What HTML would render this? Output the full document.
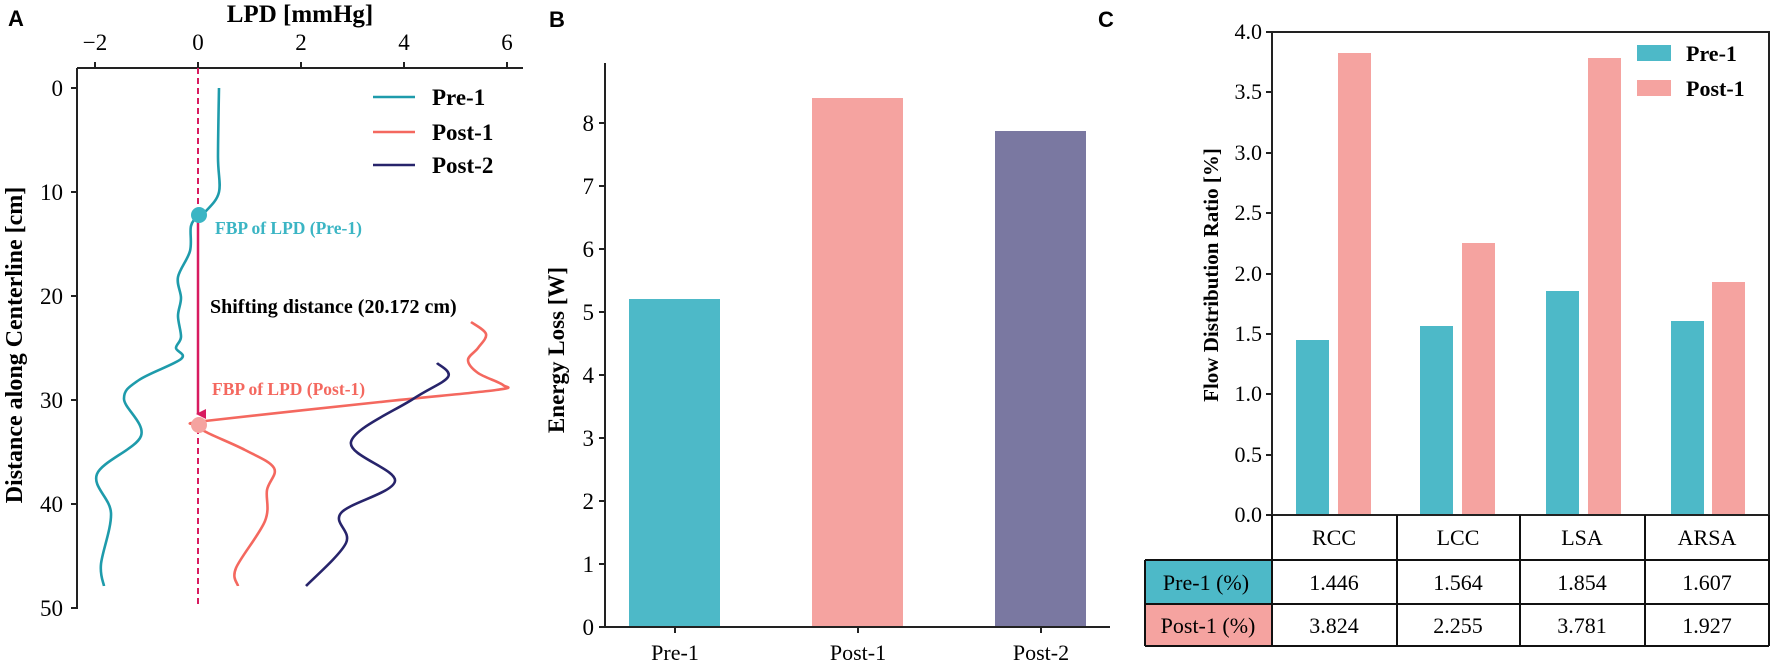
<!DOCTYPE html>
<html><head><meta charset="utf-8"><style>
html,body{margin:0;padding:0;background:#fff;}
svg{display:block;}
.t{font-family:"Liberation Serif",serif;}
.b{font-family:"Liberation Serif",serif;font-weight:bold;}
.s{font-family:"Liberation Sans",sans-serif;font-weight:bold;}
</style></head><body>
<svg id="sv" width="1772" height="666" viewBox="0 0 1772 666" xmlns="http://www.w3.org/2000/svg">
<defs><marker id="ah" markerWidth="10" markerHeight="10" refX="5" refY="8" orient="auto" markerUnits="userSpaceOnUse"><path d="M0,0 L5,10 L10,0 Z" fill="#d81b60"/></marker></defs>
<!-- Panel A -->
<text x="8" y="26" class="s" font-size="22">A</text>
<text x="300" y="22" class="b" font-size="25" text-anchor="middle">LPD [mmHg]</text>
<g stroke="#222" stroke-width="2" fill="none">
<line x1="77" y1="68" x2="523" y2="68"/><line x1="77" y1="68" x2="77" y2="609"/>
<line x1="95" y1="68" x2="95" y2="62"/><line x1="198" y1="68" x2="198" y2="62"/><line x1="301" y1="68" x2="301" y2="62"/><line x1="404" y1="68" x2="404" y2="62"/><line x1="507" y1="68" x2="507" y2="62"/>
<line x1="77" y1="88" x2="71" y2="88"/><line x1="77" y1="192" x2="71" y2="192"/><line x1="77" y1="296" x2="71" y2="296"/><line x1="77" y1="400" x2="71" y2="400"/><line x1="77" y1="504" x2="71" y2="504"/><line x1="77" y1="608" x2="71" y2="608"/>
</g>
<g class="t" font-size="23" text-anchor="middle">
<text x="95" y="50">−2</text><text x="198" y="50">0</text><text x="301" y="50">2</text><text x="404" y="50">4</text><text x="507" y="50">6</text>
</g>
<g class="t" font-size="23" text-anchor="end">
<text x="63" y="96">0</text><text x="63" y="200">10</text><text x="63" y="304">20</text><text x="63" y="408">30</text><text x="63" y="512">40</text><text x="63" y="616">50</text>
</g>
<text transform="translate(22,345) rotate(-90)" class="b" font-size="24" text-anchor="middle">Distance along Centerline [cm]</text>
<line x1="198" y1="68" x2="198" y2="608" stroke="#d81b60" stroke-width="2" stroke-dasharray="6,4"/>
<path id="p1" fill="none" stroke="#1e9bab" stroke-width="2.6"/>
<path id="p2" fill="none" stroke="#f4685f" stroke-width="2.6"/>
<path id="p3" fill="none" stroke="#27246b" stroke-width="2.6"/>
<line x1="198" y1="222" x2="198" y2="414" stroke="#d81b60" stroke-width="2.5" marker-end="url(#ah)"/>
<circle cx="199" cy="215" r="8" fill="#3bb5c4"/>
<circle cx="199" cy="425" r="8" fill="#f5a3a0"/>
<text x="215" y="234" class="b" font-size="17.5" fill="#3bb5c4">FBP of LPD (Pre-1)</text>
<text x="210" y="313" class="b" font-size="20">Shifting distance (20.172 cm)</text>
<text x="212" y="395" class="b" font-size="17.5" fill="#f4685f">FBP of LPD (Post-1)</text>
<line x1="373" y1="97" x2="415" y2="97" stroke="#1e9bab" stroke-width="2.6"/>
<line x1="373" y1="132" x2="415" y2="132" stroke="#f4685f" stroke-width="2.6"/>
<line x1="373" y1="165" x2="415" y2="165" stroke="#27246b" stroke-width="2.6"/>
<g class="b" font-size="23"><text x="432" y="105">Pre-1</text><text x="432" y="140">Post-1</text><text x="432" y="173">Post-2</text></g>

<!-- Panel B -->
<text x="549" y="27" class="s" font-size="22">B</text>
<rect x="629" y="299" width="91" height="328" fill="#4db9c8"/>
<rect x="812" y="98" width="91" height="529" fill="#f5a3a0"/>
<rect x="995" y="131" width="91" height="496" fill="#7a78a1"/>
<g stroke="#222" stroke-width="2" fill="none">
<line x1="605" y1="63" x2="605" y2="628"/><line x1="605" y1="627" x2="1110" y2="627"/>
<line x1="605" y1="627" x2="599" y2="627"/><line x1="605" y1="564" x2="599" y2="564"/><line x1="605" y1="501" x2="599" y2="501"/><line x1="605" y1="438" x2="599" y2="438"/><line x1="605" y1="375" x2="599" y2="375"/><line x1="605" y1="312" x2="599" y2="312"/><line x1="605" y1="249" x2="599" y2="249"/><line x1="605" y1="186" x2="599" y2="186"/><line x1="605" y1="123" x2="599" y2="123"/>
<line x1="675" y1="627" x2="675" y2="633"/><line x1="858" y1="627" x2="858" y2="633"/><line x1="1041" y1="627" x2="1041" y2="633"/>
</g>
<g class="t" font-size="23" text-anchor="end">
<text x="594" y="635">0</text><text x="594" y="572">1</text><text x="594" y="509">2</text><text x="594" y="446">3</text><text x="594" y="383">4</text><text x="594" y="320">5</text><text x="594" y="257">6</text><text x="594" y="194">7</text><text x="594" y="131">8</text>
</g>
<g class="t" font-size="22" text-anchor="middle"><text x="675" y="660">Pre-1</text><text x="858" y="660">Post-1</text><text x="1041" y="660">Post-2</text></g>
<text transform="translate(564,350) rotate(-90)" class="b" font-size="23" text-anchor="middle">Energy Loss [W]</text>

<!-- Panel C -->
<text x="1098" y="27" class="s" font-size="22">C</text>
<g fill="#4db9c8">
<rect x="1296" y="340" width="33" height="175"/><rect x="1420" y="326" width="33" height="189"/><rect x="1546" y="291" width="33" height="224"/><rect x="1671" y="321" width="33" height="194"/>
</g>
<g fill="#f5a3a0">
<rect x="1338" y="53" width="33" height="462"/><rect x="1462" y="243" width="33" height="272"/><rect x="1588" y="58" width="33" height="457"/><rect x="1712" y="282" width="33" height="233"/>
</g>
<g stroke="#222" stroke-width="2" fill="none">
<rect x="1272" y="32" width="497" height="483"/>
<line x1="1272" y1="515" x2="1266" y2="515"/><line x1="1272" y1="455" x2="1266" y2="455"/><line x1="1272" y1="394" x2="1266" y2="394"/><line x1="1272" y1="334" x2="1266" y2="334"/><line x1="1272" y1="274" x2="1266" y2="274"/><line x1="1272" y1="213" x2="1266" y2="213"/><line x1="1272" y1="153" x2="1266" y2="153"/><line x1="1272" y1="92" x2="1266" y2="92"/><line x1="1272" y1="32" x2="1266" y2="32"/>
</g>
<g class="t" font-size="22" text-anchor="end">
<text x="1262" y="522">0.0</text><text x="1262" y="462">0.5</text><text x="1262" y="401">1.0</text><text x="1262" y="341">1.5</text><text x="1262" y="281">2.0</text><text x="1262" y="220">2.5</text><text x="1262" y="160">3.0</text><text x="1262" y="99">3.5</text><text x="1262" y="39">4.0</text>
</g>
<text transform="translate(1218,275) rotate(-90)" class="b" font-size="21" text-anchor="middle">Flow Distribution Ratio [%]</text>
<rect x="1637" y="45" width="34" height="16" fill="#4db9c8"/>
<rect x="1637" y="80" width="34" height="16" fill="#f5a3a0"/>
<g class="b" font-size="22"><text x="1686" y="61">Pre-1</text><text x="1686" y="96">Post-1</text></g>
<!-- table -->
<rect x="1145" y="560" width="127" height="44" fill="#4db9c8"/>
<rect x="1145" y="604" width="127" height="42" fill="#f5a3a0"/>
<g stroke="#111" stroke-width="2" fill="none">
<line x1="1272" y1="515" x2="1272" y2="646"/><line x1="1397" y1="515" x2="1397" y2="646"/><line x1="1520" y1="515" x2="1520" y2="646"/><line x1="1645" y1="515" x2="1645" y2="646"/><line x1="1769" y1="515" x2="1769" y2="646"/>
<line x1="1145" y1="560" x2="1769" y2="560"/><line x1="1145" y1="604" x2="1769" y2="604"/><line x1="1145" y1="646" x2="1769" y2="646"/><line x1="1145" y1="560" x2="1145" y2="646"/>
</g>
<g class="t" font-size="22" text-anchor="middle">
<text x="1334" y="545">RCC</text><text x="1458" y="545">LCC</text><text x="1582" y="545">LSA</text><text x="1707" y="545">ARSA</text>
<text x="1206" y="590">Pre-1 (%)</text><text x="1208" y="633">Post-1 (%)</text>
<text x="1334" y="590">1.446</text><text x="1458" y="590">1.564</text><text x="1582" y="590">1.854</text><text x="1707" y="590">1.607</text>
<text x="1334" y="633">3.824</text><text x="1458" y="633">2.255</text><text x="1582" y="633">3.781</text><text x="1707" y="633">1.927</text>
</g>
</svg>
<script>
function cr(p){var d="M"+p[0][0]+","+p[0][1];for(var i=0;i<p.length-1;i++){var a=p[i-1]||p[i],b=p[i],c=p[i+1],e=p[i+2]||c;
d+=" C"+(b[0]+(c[0]-a[0])/6).toFixed(1)+","+(b[1]+(c[1]-a[1])/6).toFixed(1)+" "+(c[0]-(e[0]-b[0])/6).toFixed(1)+","+(c[1]-(e[1]-b[1])/6).toFixed(1)+" "+c[0]+","+c[1];}return d;}
var P1=[[219,88],[218,157],[219,192],[206,211],[199,215],[191,226],[190,251],[178,277],[181,298],[178,316],[181,337],[176,348],[181,359],[139,380],[124,399],[141,436],[97,474],[111,513],[101,564],[104,586]];
var P2=[[471,322],[486,334],[478,348],[468,360],[478,373],[503,385],[496,390],[380,402],[205,421],[199,425],[206,432],[245,450],[274,468],[267,490],[265,521],[236,568],[238,586]];
var P3=[[437,363],[448,377],[413,399],[351,442],[395,481],[341,513],[346,543],[306,586]];
document.getElementById("p1").setAttribute("d",cr(P1));
document.getElementById("p2").setAttribute("d",cr(P2));
document.getElementById("p3").setAttribute("d",cr(P3));
</script>
</body></html>
